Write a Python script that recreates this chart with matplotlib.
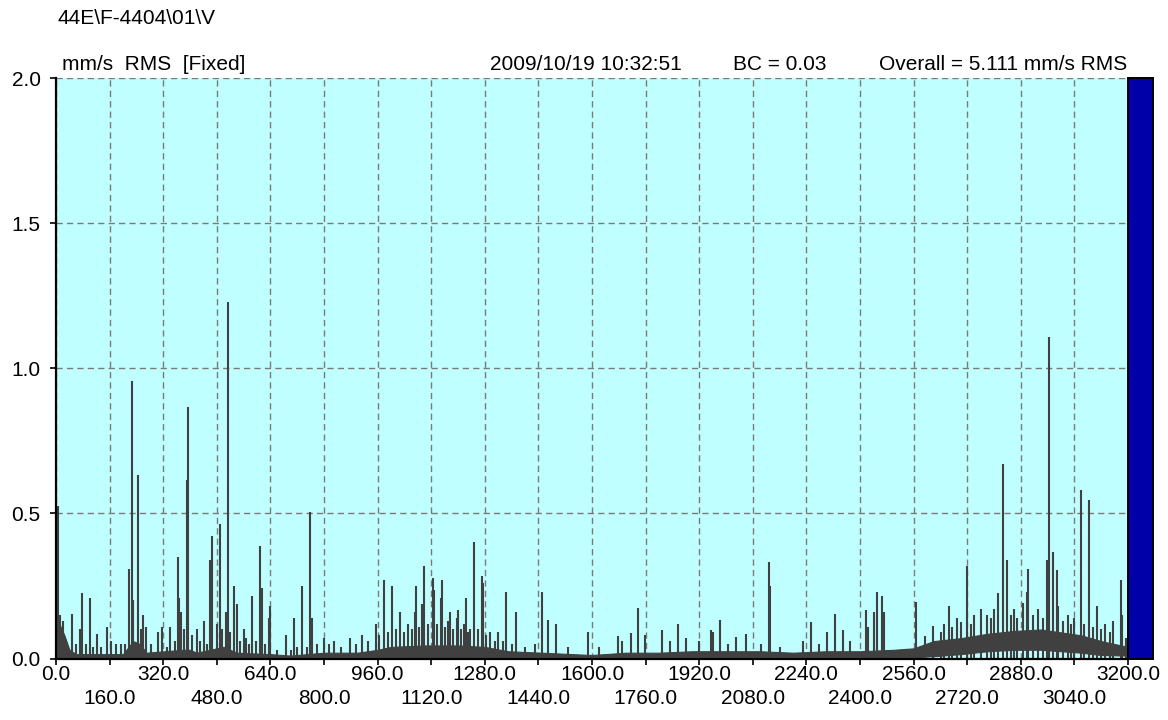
import numpy as np
import matplotlib
matplotlib.use('Agg')
import matplotlib.pyplot as plt

plt.rcParams['font.family'] = ['Liberation Sans', 'DejaVu Sans']

# spectral lines (Hz, mm/s RMS)
peak_freq = [7, 12, 20, 48, 72, 77, 101, 121, 151, 180, 195, 219, 227, 231, 245, 269, 305, 315, 340,
             363, 368, 374, 390, 395, 420, 442, 460, 466, 480, 490, 507, 512, 530, 539, 562, 568, 586,
             609, 614, 636, 639, 687, 711, 735, 759, 765, 800, 830, 878, 912, 956, 978, 1003, 1027,
             1050, 1072, 1075, 1094, 1099, 1124, 1128, 1148, 1153, 1171, 1176, 1196, 1201, 1218, 1224,
             1236, 1248, 1273, 1276, 1296, 1320, 1344, 1374, 1400, 1430, 1452, 1470, 1493, 1529, 1589,
             1620, 1678, 1690, 1715, 1738, 1758, 1810, 1832, 1858, 1880, 1920, 1955, 1960, 1983, 2007,
             2031, 2060, 2103, 2127, 2131, 2160, 2229, 2253, 2277, 2300, 2324, 2348, 2370, 2418, 2424,
             2443, 2450, 2467, 2472, 2568, 2593, 2617, 2642, 2666, 2690, 2700, 2718, 2740, 2760, 2780,
             2800, 2813, 2826, 2838, 2860, 2888, 2898, 2902, 2930, 2958, 2963, 2975, 2987, 2992, 3020,
             3040, 3059, 3083, 3107, 3130, 3155, 3179, 3182]
peak_amp = [0.526, 0.15, 0.13, 0.155, 0.10, 0.224, 0.209, 0.085, 0.11, 0.05, 0.05, 0.31, 0.956, 0.20,
            0.631, 0.11, 0.09, 0.11, 0.11, 0.348, 0.21, 0.16, 0.616, 0.866, 0.10, 0.13, 0.339, 0.422,
            0.12, 0.464, 0.16, 1.227, 0.25, 0.187, 0.10, 0.07, 0.216, 0.389, 0.243, 0.139, 0.18, 0.08,
            0.14, 0.25, 0.505, 0.14, 0.07, 0.06, 0.07, 0.08, 0.118, 0.27, 0.25, 0.16, 0.118, 0.16, 0.25,
            0.187, 0.32, 0.278, 0.235, 0.209, 0.27, 0.13, 0.16, 0.14, 0.166, 0.12, 0.209, 0.10, 0.403,
            0.284, 0.26, 0.09, 0.09, 0.23, 0.16, 0.04, 0.05, 0.23, 0.134, 0.118, 0.04, 0.09, 0.04,
            0.077, 0.06, 0.089, 0.174, 0.08, 0.097, 0.06, 0.118, 0.07, 0.06, 0.097, 0.09, 0.133, 0.05,
            0.075, 0.083, 0.05, 0.333, 0.25, 0.04, 0.062, 0.126, 0.05, 0.09, 0.152, 0.097, 0.06, 0.166,
            0.11, 0.16, 0.23, 0.216, 0.16, 0.193, 0.077, 0.112, 0.09, 0.18, 0.14, 0.125, 0.318, 0.15,
            0.17, 0.15, 0.17, 0.224, 0.671, 0.339, 0.17, 0.19, 0.23, 0.31, 0.17, 0.339, 1.108, 0.368,
            0.304, 0.18, 0.15, 0.14, 0.581, 0.547, 0.18, 0.12, 0.13, 0.272, 0.15]

# smaller lines in the noise
noise_freq = [30, 60, 90, 110, 135, 165, 205, 255, 260, 285, 330, 355, 383, 405, 430, 450, 497, 520,
              548, 575, 598, 625, 660, 700, 720, 750, 780, 815, 850, 895, 930, 965, 990, 1015, 1040,
              1062, 1085, 1110, 1138, 1160, 1185, 1210, 1230, 1260, 1285, 1310, 1335, 1360, 2650, 2675,
              2730, 2790, 2850, 2870, 2915, 2945, 3005, 3030, 3070, 3095, 3120, 3145, 3195]
noise_amp = [0.06, 0.05, 0.05, 0.04, 0.04, 0.06, 0.05, 0.10, 0.15, 0.05, 0.04, 0.06, 0.10, 0.08, 0.06,
             0.05, 0.10, 0.09, 0.06, 0.05, 0.06, 0.05, 0.03, 0.03, 0.04, 0.04, 0.05, 0.05, 0.04, 0.05,
             0.06, 0.08, 0.09, 0.10, 0.09, 0.10, 0.11, 0.12, 0.12, 0.11, 0.10, 0.10, 0.09, 0.10, 0.08,
             0.06, 0.06, 0.05, 0.12, 0.11, 0.12, 0.14, 0.15, 0.14, 0.15, 0.14, 0.13, 0.12, 0.12, 0.11,
             0.10, 0.09, 0.07]

# noise floor band (upper and lower edge)
floor_freq = [0, 10, 25, 40, 60, 200, 230, 250, 270, 380, 400, 420, 500, 540, 640, 700, 800, 900, 960,
              1000, 1100, 1200, 1280, 1350, 1450, 1600, 1700, 1800, 1900, 2000, 2100, 2200, 2300, 2400,
              2500, 2560, 2620, 2700, 2780, 2860, 2940, 3000, 3060, 3120, 3200]
floor_hi = [0.15, 0.12, 0.08, 0.03, 0.015, 0.015, 0.06, 0.05, 0.02, 0.03, 0.03, 0.02, 0.04, 0.02, 0.015,
            0.01, 0.02, 0.02, 0.03, 0.04, 0.045, 0.045, 0.04, 0.025, 0.02, 0.012, 0.02, 0.02, 0.025,
            0.025, 0.025, 0.02, 0.025, 0.025, 0.03, 0.035, 0.06, 0.07, 0.085, 0.095, 0.10, 0.09, 0.08,
            0.06, 0.04]
floor_lo = [0.004] * 36 + [0.008, 0.015, 0.025, 0.03, 0.03, 0.025, 0.02, 0.012, 0.01]

major_ticks = np.arange(0, 3201, 320)
minor_ticks = np.arange(160, 3200, 320)
y_ticks = [0.0, 0.5, 1.0, 1.5, 2.0]

W, H = 1168, 720
x0, x1 = 56, 1128
y_top, y_bot = 78, 658.5

fig = plt.figure(figsize=(W / 100, H / 100), dpi=100)
ax = fig.add_axes([x0 / W, 1 - y_bot / H, (x1 - x0) / W, (y_bot - y_top) / H])
ax.set_facecolor('#c0ffff')
ax.set_xlim(0, 3200)
ax.set_ylim(0, 2.0)

line_col = '#404040'
ax.fill_between(floor_freq, floor_lo, floor_hi, color=line_col, lw=0.8, zorder=3)
ax.vlines(noise_freq, 0, noise_amp, color=line_col, lw=1.5, zorder=3)
ax.vlines(peak_freq, 0, peak_amp, color=line_col, lw=1.5, zorder=3)

ax.set_xticks(major_ticks, ['%.1f' % v for v in major_ticks])
ax.set_xticks(minor_ticks, ['%.1f' % v for v in minor_ticks], minor=True)
ax.set_yticks(y_ticks, ['%.1f' % v for v in y_ticks])
ax.tick_params(axis='x', which='major', length=4, width=1.2, pad=1, labelsize=15)
ax.tick_params(axis='x', which='minor', length=4, width=1.2, pad=18, labelsize=15)
ax.tick_params(axis='y', length=4, width=1.2, pad=7, labelsize=15)

ax.grid(True, axis='x', which='both', color='#7a7a7a', linestyle=(0, (4.5, 3)), lw=1.0)
ax.grid(True, axis='y', which='major', color='#7a7a7a', linestyle=(0, (4.5, 3)), lw=1.0)
ax.set_axisbelow(True)
for s in ['top', 'right']:
    ax.spines[s].set_visible(False)
for s in ['left', 'bottom']:
    ax.spines[s].set_linewidth(1.6)
    ax.spines[s].set_color('black')
    ax.spines[s].set_zorder(5)

# blue level bar on the right
bar = fig.add_axes([x1 / W, 1 - y_bot / H, 25 / W, (y_bot - y_top) / H])
bar.set_facecolor('#0000a8')
bar.set_xticks([])
bar.set_yticks([])
for s in bar.spines.values():
    s.set_linewidth(1.4)
    s.set_color('black')

fig.text(58 / W, 1 - 18 / H, '44E\\F-4404\\01\\V', fontsize=15, va='center', ha='left')
fig.text(62 / W, 1 - 64 / H, 'mm/s  RMS  [Fixed]', fontsize=15, va='center', ha='left')
fig.text(490 / W, 1 - 64 / H, '2009/10/19 10:32:51', fontsize=15, va='center', ha='left')
fig.text(733 / W, 1 - 64 / H, 'BC = 0.03', fontsize=15, va='center', ha='left')
fig.text(1127 / W, 1 - 64 / H, 'Overall = 5.111 mm/s RMS', fontsize=15, va='center', ha='right')

fig.savefig('out.png', dpi=100)
